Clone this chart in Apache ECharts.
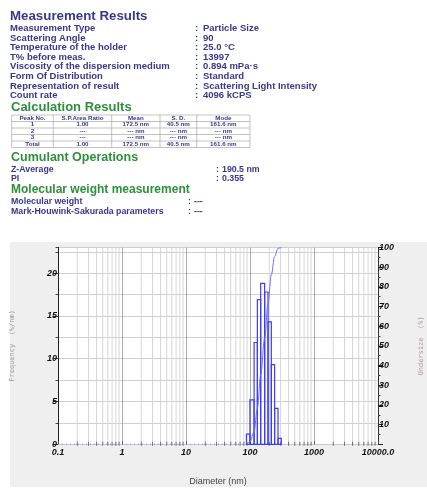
<!DOCTYPE html>
<html><head><meta charset="utf-8">
<script src="https://cdn.jsdelivr.net/npm/echarts@6/dist/echarts.min.js"></script>
<style>
html,body{margin:0;padding:0;background:#fff;}
#bg{position:absolute;left:10px;top:242px;width:417px;height:245px;background:#efefef;}
#plotbg{position:absolute;left:58px;top:247.5px;width:320px;height:197px;background:#fff;}
#c{position:absolute;left:0;top:0;width:427px;height:489px;}
</style></head>
<body><div id="bg"></div><div id="plotbg"></div><div id="c"></div>
<script>
// ---------- report text ----------
const measLabels = ['Measurement Type','Scattering Angle','Temperature of the holder','T% before meas.','Viscosity of the dispersion medium','Form Of Distribution','Representation of result','Count rate'];
const measValues = ['Particle Size','90','25.0 \u00B0C','13997','0.894 mPa\u00B7s','Standard','Scattering Light Intensity','4096 kCPS'];
const tableHead = ['Peak No.','S.P.Area Ratio','Mean','S. D.','Mode'];
const tableRows = [
  ['1','1.00','172.5 nm','40.5 nm','161.6 nm'],
  ['2','---','--- nm','--- nm','--- nm'],
  ['3','---','--- nm','--- nm','--- nm'],
  ['Total','1.00','172.5 nm','40.5 nm','161.6 nm']
];
const cumLabels = ['Z-Average','PI'];
const cumValues = ['190.5 nm','0.355'];
const mwLabels = ['Molecular weight','Mark-Houwink-Sakurada parameters'];
const mwValues = ['---','---'];

// ---------- chart data ----------
const binEdges = [87.9, 99.8, 115.9, 130.4, 146.8, 169.4, 191.4, 215.4, 242.5, 274.0, 308.6];
const freq     = [1.2, 5.2, 11.9, 16.9, 18.8, 17.8, 14.3, 9.3, 4.2, 0.7];
const cumDiam  = [87.9, 99.8, 115.9, 130.4, 146.8, 169.4, 191.4, 215.4, 242.5, 274.0, 308.6];
const cumPct   = [0, 1.2, 6.4, 18.3, 35.2, 54.0, 71.8, 86.1, 95.4, 99.6, 100];
const zeroRange = [0.1, 87.9];
const xTickLabels = {'-1':'0.1','0':'1','1':'10','2':'100','3':'1000','4':'10000.0'};

const NAVY = '#38388c', GREEN = '#2f8f3c';
const F = '"Liberation Sans", Arial, sans-serif';

function txt(x, y, text, size, fill, align, weight) {
  return {type:'text', x:x, y:y, silent:true,
    style:{text:text, font:(weight||'bold')+' '+size+'px '+F, fill:fill,
      align:align||'left', verticalAlign:'middle', textAlign:align||'left', textVerticalAlign:'middle'}};
}
function ln(x1,y1,x2,y2,color,w){
  return {type:'line', silent:true, shape:{x1:x1,y1:y1,x2:x2,y2:y2}, style:{stroke:color||'#999', lineWidth:w||0.6}};
}

const g = [];
g.push(txt(10, 16.5, 'Measurement Results', 13.3, NAVY));
measLabels.forEach((l,i)=>{
  const y = 28.3 + i*9.6;
  g.push(txt(10, y, l, 9.5, NAVY));
  g.push(txt(195, y, ':', 9.5, NAVY));
  g.push(txt(203, y, measValues[i], 9.5, NAVY));
});
g.push(txt(11, 107.5, 'Calculation Results', 13, GREEN));
// table
const colX = [11.7, 53.3, 111.7, 160, 196.7, 250];
const rowY = [115, 121.5, 128, 134.5, 141, 147.5];
rowY.forEach(y=>g.push(ln(colX[0], y, colX[5], y, '#9a9a9a', 0.6)));
colX.forEach(x=>g.push(ln(x, rowY[0], x, rowY[5], '#9a9a9a', 0.6)));
[tableHead].concat(tableRows).forEach((row,r)=>{
  const y = (rowY[r]+rowY[r+1])/2;
  row.forEach((c,k)=>g.push(txt((colX[k]+colX[k+1])/2, y, c, 6.2, NAVY, 'center')));
});
g.push(txt(11, 158, 'Cumulant Operations', 12.5, GREEN));
cumLabels.forEach((l,i)=>{
  const y = 170 + i*8.5;
  g.push(txt(11, y, l, 8.8, NAVY));
  g.push(txt(216, y, ':', 8.8, NAVY));
  g.push(txt(222, y, cumValues[i], 8.8, NAVY));
});
g.push(txt(11, 190, 'Molecular weight measurement', 12, GREEN));
mwLabels.forEach((l,i)=>{
  const y = 201.5 + i*10;
  g.push(txt(11, y, l, 8.8, NAVY));
  g.push(txt(188, y, ':', 8.8, NAVY));
  g.push(txt(194, y, mwValues[i], 8.8, NAVY));
});

// minor log gridlines / ticks (axis structure)
const minorVals = [];
for (let e = -1; e < 4; e++) for (let m = 2; m <= 9; m++) minorVals.push(+(m*Math.pow(10,e)).toPrecision(3));

const labelStyle = {fontFamily:F, fontStyle:'italic', fontWeight:'bold', fontSize:9, color:'#111'};

const chart = echarts.init(document.getElementById('c'), null, {renderer:'canvas'});
chart.setOption({
  animation:false,
  backgroundColor:'transparent',
  graphic: g,
  grid:{left:58, right:49, top:247.5, bottom:44.7, show:false, containLabel:false, outerBoundsMode:'none'},
  xAxis:{type:'log', logBase:10, min:0.1, max:10000, splitNumber:5,
    name:'Diameter (nm)', nameLocation:'middle', nameGap:37,
    nameTextStyle:{fontFamily:F, fontSize:9, color:'#444', verticalAlign:'middle'},
    axisLine:{show:true, lineStyle:{color:'#c8c8c8', width:1}},
    axisTick:{show:true, inside:true, length:3, lineStyle:{color:'#555'}},
    axisLabel:Object.assign({margin:4, formatter:v=>xTickLabels[String(Math.round(Math.log10(v)))]||''}, labelStyle),
    splitLine:{show:true, lineStyle:{color:'#ababab', width:1}}
  },
  yAxis:[
    {type:'value', min:0, max:23, interval:5, position:'left',
      name:'Frequency  (%/nm)', nameLocation:'middle', nameGap:42,
      nameTextStyle:{fontFamily:'"DejaVu Sans Mono", monospace', fontSize:7, color:'#9a9a9a'},
      axisLine:{show:true, lineStyle:{color:'#222', width:1}},
      axisTick:{show:true, length:5, lineStyle:{color:'#222'}},
      axisLabel:Object.assign({margin:1, showMaxLabel:false}, labelStyle),
      splitLine:{show:false}},
    {type:'value', min:0, max:23, interval:2.5, position:'left',
      axisLine:{show:false}, axisTick:{show:true, length:2.5, lineStyle:{color:'#444'}},
      axisLabel:{show:false},
      splitLine:{show:true, lineStyle:{color:'#cfcfcf', width:1}}},
    {type:'value', min:0, max:100, interval:10, position:'right',
      name:'Undersize  (%)', nameLocation:'middle', nameGap:40,
      nameTextStyle:{fontFamily:'"DejaVu Sans Mono", monospace', fontSize:7, color:'#b09494'},
      axisLine:{show:true, lineStyle:{color:'#333', width:1}},
      axisTick:{show:true, length:5, lineStyle:{color:'#222'}},
      minorTick:{show:true, splitNumber:2, length:2.5, lineStyle:{color:'#444'}},
      axisLabel:Object.assign({margin:1, showMinLabel:false}, labelStyle),
      splitLine:{show:false}}
  ],
  series:[
    {type:'custom', name:'minor grid', silent:true, z:1, yAxisIndex:1,
      data: minorVals.map(v=>[v]),
      encode:{x:0},
      renderItem:function(params, api){
        const v = api.value(0);
        const top = api.coord([v, 23]), bot = api.coord([v, 0]);
        return {type:'group', children:[
          {type:'line', shape:{x1:top[0], y1:top[1], x2:bot[0], y2:bot[1]}, style:{stroke:'#d6d6d6', lineWidth:1}},
          {type:'line', shape:{x1:bot[0], y1:bot[1]-2.5, x2:bot[0], y2:bot[1]+1.5}, style:{stroke:'#555', lineWidth:0.8}}
        ]};
      }},
    {type:'line', name:'zero', yAxisIndex:0, z:2, symbol:'none', silent:true,
      data:[[zeroRange[0],0],[zeroRange[1],0]],
      lineStyle:{color:'#7a7aff', width:1, type:[1,3]}},
    {type:'custom', name:'Frequency', yAxisIndex:0, z:3,
      data: freq.map((f,i)=>[binEdges[i], binEdges[i+1], f]),
      encode:{x:[0,1], y:2},
      renderItem:function(params, api){
        const p0 = api.coord([api.value(0), api.value(2)]);
        const p1 = api.coord([api.value(1), 0]);
        return {type:'rect', shape:{x:p0[0], y:p0[1], width:p1[0]-p0[0], height:p1[1]-p0[1]},
          style:{fill:'none', stroke:'#3c3cff', lineWidth:1.2}};
      }},
    {type:'line', name:'Undersize', yAxisIndex:2, z:4, symbol:'none', smooth:0.35, smoothMonotone:'x',
      data: cumDiam.map((d,i)=>[d, cumPct[i]]),
      lineStyle:{color:'#6e6eff', width:1}}
  ]
});
</script>
</body></html>
